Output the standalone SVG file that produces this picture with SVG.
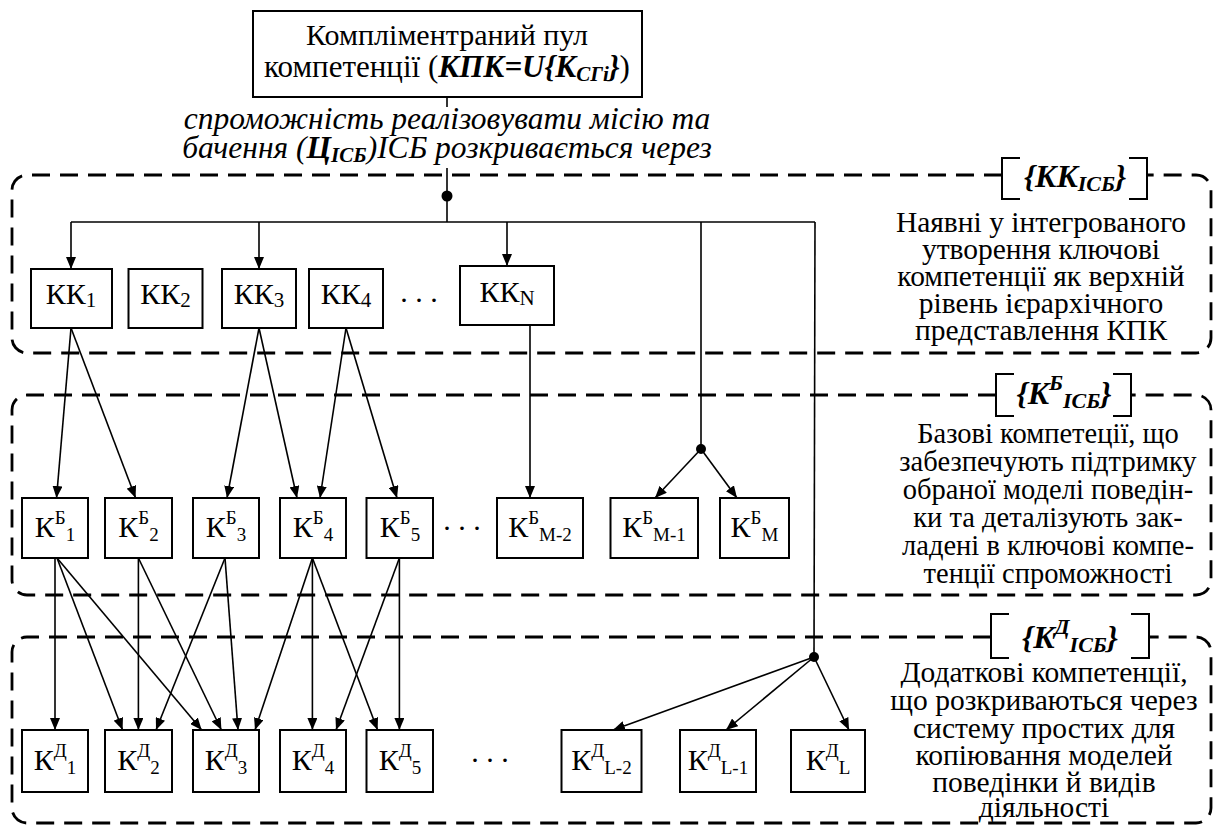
<svg xmlns="http://www.w3.org/2000/svg" width="1217" height="825" viewBox="0 0 1217 825">
<style>
.box{fill:#fff;stroke:#000;stroke-width:2}
.ln{stroke:#000;stroke-width:1.6;fill:none}
.ar{marker-end:url(#ah)}
.dash{fill:none;stroke:#000;stroke-width:2.8;stroke-dasharray:18 10}
.br{fill:none;stroke:#000;stroke-width:2}
.t{font-family:"Liberation Serif","Times New Roman",serif;font-size:30px;fill:#000}
.d{font-family:"Liberation Serif","Times New Roman",serif;fill:#000;text-anchor:middle}
.c{text-anchor:middle}
.bi{font-weight:bold;font-style:italic}
.it{font-style:italic}
.lab{font-size:32px}
.cap{font-size:31.5px}
</style>
<defs>
<marker id="ah" markerUnits="userSpaceOnUse" markerWidth="12" markerHeight="10" refX="12" refY="5" orient="auto">
<path d="M0,0 L12,5 L0,10 z" fill="#000"/>
</marker>
</defs>
<rect x="0" y="0" width="1217" height="825" fill="#fff"/>

<g id="regions">
<path class="dash" d="M1002,175 H27 A15,15 0 0 0 12,190 V338 A15,15 0 0 0 27,353 H1196 A15,15 0 0 0 1211,338 V190 A15,15 0 0 0 1196,175 H1147"/>
<path class="br" d="M1020,158 H1002 V199 H1020 M1129,158 H1147 V199 H1129"/>
<text class="t c bi lab" x="1075" y="187">{KK<tspan font-size="22" dy="4">ІСБ</tspan><tspan dy="-4">}</tspan></text>
<g class="d" font-size="29.5">
<text x="1041" y="232">Наявні у інтегрованого</text>
<text x="1041" y="259">утворення ключові</text>
<text x="1041" y="286">компетенції як верхній</text>
<text x="1041" y="313">рівень ієрархічного</text>
<text x="1041" y="340">представлення КПК</text>
</g>

<path class="dash" d="M996,395 H27 A15,15 0 0 0 12,410 V580 A15,15 0 0 0 27,595 H1196 A15,15 0 0 0 1211,580 V410 A15,15 0 0 0 1196,395 H1131"/>
<path class="br" d="M1014,374 H996 V416 H1014 M1113,374 H1131 V416 H1113"/>
<text class="t c bi lab" x="1064" y="404">{K<tspan font-size="22" dy="-14">Б</tspan><tspan font-size="22" dy="18">ІСБ</tspan><tspan dy="-4">}</tspan></text>
<g class="d" font-size="28.5">
<text x="1048" y="443">Базові компетеції, що</text>
<text x="1048" y="471">забезпечують підтримку</text>
<text x="1048" y="499">обраної моделі поведін-</text>
<text x="1048" y="527">ки та деталізують зак-</text>
<text x="1048" y="555">ладені в ключові компе-</text>
<text x="1048" y="583">тенції спроможності</text>
</g>

<path class="dash" d="M991,637 H27 A15,15 0 0 0 12,652 V808 A15,15 0 0 0 27,823 H1196 A15,15 0 0 0 1211,808 V652 A15,15 0 0 0 1196,637 H1149"/>
<path class="br" d="M1009,614 H991 V658 H1009 M1131,614 H1149 V658 H1131"/>
<text class="t c bi lab" x="1070" y="648">{K<tspan font-size="22" dy="-14">Д</tspan><tspan font-size="22" dy="18">ІСБ</tspan><tspan dy="-4">}</tspan></text>
<g class="d" font-size="29.5">
<text x="1044" y="682">Додаткові компетенції,</text>
<text x="1044" y="710">що розкриваються через</text>
<text x="1044" y="738">систему простих для</text>
<text x="1044" y="765">копіювання моделей</text>
<text x="1044" y="792">поведінки й видів</text>
<text x="1044" y="817">діяльності</text>
</g>
</g>

<g id="top">
<rect class="box" x="253" y="11" width="389" height="86"/>
<text class="t c" x="447" y="45">Компліментраний пул</text>
<text class="t c" x="447" y="77" style="font-size:31px">компетенції (<tspan class="bi">КПК=U{К</tspan><tspan class="bi" font-size="21" dy="4">СГі</tspan><tspan class="bi" dy="-4">}</tspan>)</text>
</g>
<g id="caption">
<text class="t c it cap" x="447" y="129">спроможність реалізовувати місію та</text>
<text class="t c it cap" x="447" y="158">бачення (<tspan class="bi">Ц</tspan><tspan class="bi" font-size="21" dy="4">ІСБ</tspan><tspan dy="-4">)ІСБ розкривається через</tspan></text>
</g>

<g id="connectors">
<line class="ln" x1="447" y1="97" x2="447" y2="107"/>
<line class="ln" x1="447" y1="168" x2="447" y2="222"/>
<circle cx="447" cy="196" r="5.5"/>
<line class="ln" x1="71" y1="222" x2="815" y2="222"/>
<line class="ln ar" x1="71" y1="222" x2="71" y2="269"/>
<line class="ln ar" x1="259" y1="222" x2="259" y2="269"/>
<line class="ln ar" x1="507" y1="222" x2="507" y2="266"/>
<line class="ln" x1="701" y1="222" x2="701" y2="449"/>
<circle cx="701" cy="449" r="5"/>
<line class="ln" x1="815" y1="222" x2="814" y2="657"/>
<circle cx="814" cy="657" r="5"/>
<line class="ln ar" x1="701" y1="449" x2="655" y2="498"/>
<line class="ln ar" x1="701" y1="449" x2="737" y2="498"/>
<line class="ln ar" x1="814" y1="657" x2="613" y2="730"/>
<line class="ln ar" x1="814" y1="657" x2="726" y2="730"/>
<line class="ln ar" x1="814" y1="657" x2="849" y2="730"/>
<line class="ln ar" x1="71" y1="328" x2="56.5" y2="498"/>
<line class="ln ar" x1="71" y1="328" x2="135.6" y2="498"/>
<line class="ln ar" x1="259" y1="328" x2="227" y2="498"/>
<line class="ln ar" x1="259" y1="328" x2="297" y2="498"/>
<line class="ln ar" x1="346" y1="328" x2="320" y2="498"/>
<line class="ln ar" x1="346" y1="328" x2="397" y2="498"/>
<line class="ln ar" x1="530" y1="325" x2="530" y2="498"/>
<line class="ln ar" x1="55" y1="558" x2="55" y2="730"/>
<line class="ln ar" x1="57" y1="558" x2="122.6" y2="730"/>
<line class="ln ar" x1="57" y1="558" x2="201.7" y2="730"/>
<line class="ln ar" x1="138.4" y1="558" x2="138.4" y2="730"/>
<line class="ln ar" x1="138.4" y1="558" x2="221.4" y2="730"/>
<line class="ln ar" x1="225" y1="558" x2="156" y2="730"/>
<line class="ln ar" x1="225" y1="558" x2="238" y2="730"/>
<line class="ln ar" x1="312.4" y1="558" x2="255" y2="730"/>
<line class="ln ar" x1="312.4" y1="558" x2="312.4" y2="730"/>
<line class="ln ar" x1="312.4" y1="558" x2="377.6" y2="730"/>
<line class="ln ar" x1="399.4" y1="558" x2="336" y2="730"/>
<line class="ln ar" x1="399.4" y1="558" x2="399.4" y2="730"/>
</g>

<g id="kk1"><rect class="box" x="31" y="269" width="81" height="59"/><text class="t c" x="71" y="304">КК<tspan font-size="21" dy="3">1</tspan></text></g>
<g id="kk2"><rect class="box" x="128.5" y="269" width="74" height="59"/><text class="t c" x="165.5" y="304">КК<tspan font-size="21" dy="3">2</tspan></text></g>
<g id="kk3"><rect class="box" x="222" y="269" width="74" height="59"/><text class="t c" x="259" y="304">КК<tspan font-size="21" dy="3">3</tspan></text></g>
<g id="kk4"><rect class="box" x="309" y="269" width="74" height="59"/><text class="t c" x="346" y="304">КК<tspan font-size="21" dy="3">4</tspan></text></g>
<text class="t c" x="419" y="302">. . .</text>
<g id="kkN"><rect class="box" x="460" y="266" width="94" height="59"/><text class="t c" x="507" y="302">КК<tspan font-size="21" dy="3">N</tspan></text></g>

<g id="kb1"><rect class="box" x="22" y="498" width="66" height="60"/><text class="t c" x="55" y="537">К<tspan font-size="19" dy="-13">Б</tspan><tspan font-size="19" dy="17">1</tspan></text></g>
<g id="kb2"><rect class="box" x="105" y="498" width="67" height="60"/><text class="t c" x="138.5" y="537">К<tspan font-size="19" dy="-13">Б</tspan><tspan font-size="19" dy="17">2</tspan></text></g>
<g id="kb3"><rect class="box" x="193" y="498" width="66" height="60"/><text class="t c" x="226" y="537">К<tspan font-size="19" dy="-13">Б</tspan><tspan font-size="19" dy="17">3</tspan></text></g>
<g id="kb4"><rect class="box" x="280" y="498" width="66" height="60"/><text class="t c" x="313" y="537">К<tspan font-size="19" dy="-13">Б</tspan><tspan font-size="19" dy="17">4</tspan></text></g>
<g id="kb5"><rect class="box" x="366.5" y="498" width="66.5" height="60"/><text class="t c" x="400" y="537">К<tspan font-size="19" dy="-13">Б</tspan><tspan font-size="19" dy="17">5</tspan></text></g>
<text class="t c" x="462" y="530">. . .</text>
<g id="kbM2"><rect class="box" x="497" y="498" width="86" height="60"/><text class="t c" x="540" y="537">К<tspan font-size="19" dy="-13">Б</tspan><tspan font-size="19" dy="17">M-2</tspan></text></g>
<g id="kbM1"><rect class="box" x="610.5" y="498" width="87.5" height="60"/><text class="t c" x="654" y="537">К<tspan font-size="19" dy="-13">Б</tspan><tspan font-size="19" dy="17">M-1</tspan></text></g>
<g id="kbM"><rect class="box" x="720" y="498" width="69" height="60"/><text class="t c" x="754.5" y="537">К<tspan font-size="19" dy="-13">Б</tspan><tspan font-size="19" dy="17">M</tspan></text></g>

<g id="kd1"><rect class="box" x="22" y="730" width="66" height="62"/><text class="t c" x="55" y="770">К<tspan font-size="19" dy="-13">Д</tspan><tspan font-size="19" dy="17">1</tspan></text></g>
<g id="kd2"><rect class="box" x="105" y="730" width="67" height="62"/><text class="t c" x="138.5" y="770">К<tspan font-size="19" dy="-13">Д</tspan><tspan font-size="19" dy="17">2</tspan></text></g>
<g id="kd3"><rect class="box" x="193" y="730" width="66" height="62"/><text class="t c" x="226" y="770">К<tspan font-size="19" dy="-13">Д</tspan><tspan font-size="19" dy="17">3</tspan></text></g>
<g id="kd4"><rect class="box" x="280" y="730" width="66" height="62"/><text class="t c" x="313" y="770">К<tspan font-size="19" dy="-13">Д</tspan><tspan font-size="19" dy="17">4</tspan></text></g>
<g id="kd5"><rect class="box" x="366.5" y="730" width="66.5" height="62"/><text class="t c" x="400" y="770">К<tspan font-size="19" dy="-13">Д</tspan><tspan font-size="19" dy="17">5</tspan></text></g>
<text class="t c" x="490" y="762">. . .</text>
<g id="kdL2"><rect class="box" x="561.5" y="730" width="80" height="62"/><text class="t c" x="601.5" y="770">К<tspan font-size="19" dy="-13">Д</tspan><tspan font-size="19" dy="17">L-2</tspan></text></g>
<g id="kdL1"><rect class="box" x="680" y="730" width="76" height="62"/><text class="t c" x="718" y="770">К<tspan font-size="19" dy="-13">Д</tspan><tspan font-size="19" dy="17">L-1</tspan></text></g>
<g id="kdL"><rect class="box" x="791" y="730" width="74" height="62"/><text class="t c" x="828" y="770">К<tspan font-size="19" dy="-13">Д</tspan><tspan font-size="19" dy="17">L</tspan></text></g>
</svg>
